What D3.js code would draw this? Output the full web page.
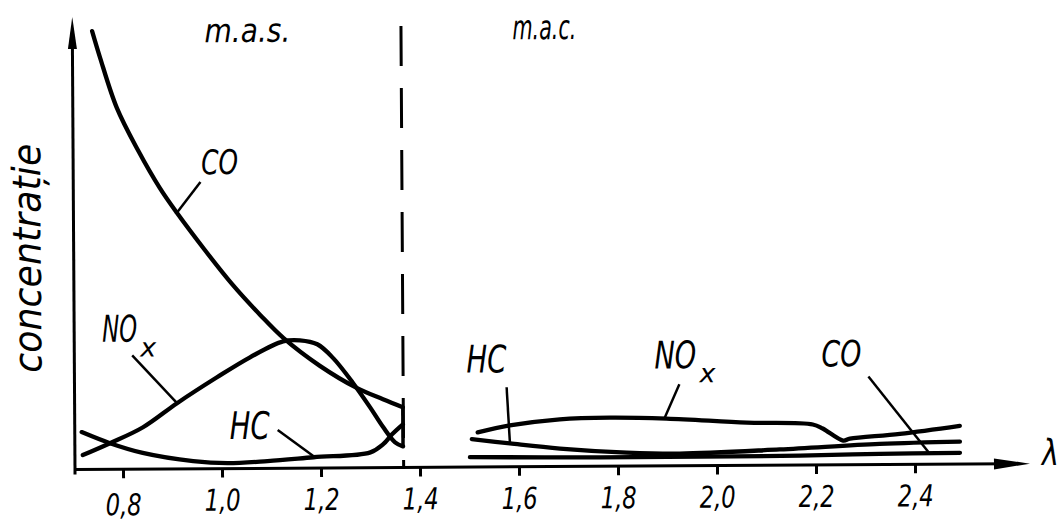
<!DOCTYPE html>
<html><head><meta charset="utf-8">
<script src="https://cdn.jsdelivr.net/npm/d3@7"></script>
<style>
html,body{margin:0;padding:0;background:#fff;}
svg{display:block;}
text{font-family:"DejaVu Sans","Liberation Sans",sans-serif;font-style:italic;fill:#000;}
</style></head><body>
<svg id="chart" width="1062" height="520"></svg>
<script>
// ---------- data ----------
const xTicks = [0.8, 1.0, 1.2, 1.4, 1.6, 1.8, 2.0, 2.2, 2.4];
const xTickLabels = ["0,8", "1,0", "1,2", "1,4", "1,6", "1,8", "2,0", "2,2", "2,4"];
const regimeBoundary = 1.367;
const regimeLabels = ["m.a.s.", "m.a.c."];
const yTitle = "concentrație";
const xTitle = "λ";

// m.a.s. region (lambda, relative concentration)
const coLeft  = [[0.743,9.74],[0.759,9.14],[0.792,8.03],[0.834,7.09],[0.878,6.24],[0.912,5.69],[0.968,4.86],[1.024,4.08],[1.079,3.41],[1.126,2.89],[1.199,2.27],[1.274,1.77],[1.326,1.52],[1.366,1.34]];
const noxLeft = [[0.719,0.32],[0.774,0.58],[0.841,0.93],[0.910,1.46],[0.991,2.03],[1.058,2.47],[1.125,2.82],[1.159,2.84],[1.194,2.75],[1.226,2.44],[1.266,1.88],[1.300,1.34],[1.326,0.90],[1.350,0.56],[1.366,0.47]];
const hcLeft  = [[0.717,0.83],[0.774,0.58],[0.840,0.36],[0.942,0.17],[1.011,0.12],[1.092,0.16],[1.185,0.24],[1.300,0.34],[1.326,0.52],[1.344,0.74],[1.366,0.96]];
const boundaryJoin = [[1.366,1.34],[1.366,0.45]];

// m.a.c. region
const noxRight = [[1.517,0.77],[1.582,0.92],[1.683,1.05],[1.784,1.08],[1.899,1.05],[2.061,0.95],[2.194,0.90],[2.214,0.81],[2.255,0.54],[2.269,0.58],[2.370,0.68],[2.491,0.85]];
const hcRight  = [[1.505,0.62],[1.582,0.52],[1.683,0.40],[1.818,0.30],[1.925,0.27],[2.127,0.35],[2.329,0.46],[2.491,0.50]];
const coRight  = [[1.501,0.22],[1.764,0.20],[1.966,0.20],[2.168,0.21],[2.329,0.24],[2.491,0.25]];

// ---------- layout ----------
const svg = d3.select("#chart");
const g = svg.append("g").attr("transform", "rotate(-0.35,75,469.5)");

const x = d3.scaleLinear().domain([0.8, 2.4]).range([123, 915]);
const y = d3.scaleLinear().domain([0, 10]).range([469.5, 19.5]);

const xAxisStart = x.invert(75), xAxisEnd = x.invert(1030);
const yAxisTop = y.invert(17);

// axes lines
g.append("line").attr("x1", x(xAxisStart)).attr("x2", x(xAxisEnd) - 20)
  .attr("y1", y(0)).attr("y2", y(0)).attr("stroke", "#000").attr("stroke-width", 3);
g.append("path").attr("d", `M${x(xAxisEnd)},${y(0)} L${x(xAxisEnd)-36},${y(0)-5.5} L${x(xAxisEnd)-36},${y(0)+5.5} Z`).attr("fill", "#000");
g.append("line").attr("x1", x(xAxisStart)).attr("x2", x(xAxisStart))
  .attr("y1", y(0) + 5).attr("y2", y(yAxisTop) + 20).attr("stroke", "#000").attr("stroke-width", 3);
g.append("path").attr("d", `M${x(xAxisStart)},${y(yAxisTop)} L${x(xAxisStart)-4.5},${y(yAxisTop)+32} L${x(xAxisStart)+4.5},${y(yAxisTop)+32} Z`).attr("fill", "#000");

// x axis ticks via d3 axis
const xAxis = d3.axisBottom(x).tickValues(xTicks).tickSize(9)
  .tickFormat((d, i) => xTickLabels[i]);
const ax = g.append("g").attr("transform", `translate(0,${y(0)})`).call(xAxis)
  .attr("font-size", null).attr("font-family", null);
ax.select(".domain").remove();
ax.selectAll(".tick line").attr("stroke", "#000").attr("stroke-width", 3);
ax.selectAll(".tick text")
  .attr("y", (d) => d === 0.8 ? 46 : 42).attr("dy", 0)
  .style("font-size", "30px").style("font-style", "italic")
  .attr("textLength", 36).attr("lengthAdjust", "spacingAndGlyphs")
  .attr("fill", "#000");

// regime boundary
g.append("line").attr("x1", x(regimeBoundary)).attr("x2", x(regimeBoundary))
  .attr("y1", 28).attr("y2", y(0)).attr("stroke", "#000").attr("stroke-width", 3)
  .attr("stroke-dasharray", "40,22");

// curves
const line = d3.line().x(d => x(d[0])).y(d => y(d[1])).curve(d3.curveCatmullRom.alpha(0.5));
const straight = d3.line().x(d => x(d[0])).y(d => y(d[1]));
[coLeft, noxLeft, hcLeft, noxRight, hcRight, coRight].forEach(s => {
  g.append("path").attr("d", line(s)).attr("fill", "none").attr("stroke", "#000")
    .attr("stroke-width", 4.3).attr("stroke-linecap", "round").attr("stroke-linejoin", "round");
});
g.append("path").attr("d", straight(boundaryJoin)).attr("fill", "none").attr("stroke", "#000").attr("stroke-width", 3.5);

// leaders (data coords)
const leaders = [
  [[0.960,6.37],[0.912,5.69]],
  [[0.820,2.53],[0.910,1.46]],
  [[1.113,0.85],[1.188,0.24]],
  [[1.576,1.77],[1.582,0.52]],
  [[1.925,1.81],[1.895,1.07]],
  [[2.307,1.96],[2.428,0.26]]
];
leaders.forEach(l => g.append("path").attr("d", straight(l)).attr("stroke", "#000").attr("stroke-width", 2.5).attr("fill", "none"));

// labels
function label(txt, px, py, size, w) {
  g.append("text").attr("x", px).attr("y", py).style("font-size", size + "px")
    .attr("textLength", w).attr("lengthAdjust", "spacingAndGlyphs").text(txt);
}
label(regimeLabels[0], 207, 43, 33, 86);
label(regimeLabels[1], 515, 42, 34, 64);
label("CO", 203, 175, 34, 37);
label("NO", 103, 342, 37, 35);
label("x", 141, 357, 26, 16);
label("HC", 230, 440, 38, 40);
label("HC", 467, 375, 38, 40);
label("NO", 655, 372, 38, 42);
label("x", 700, 386, 26, 16);
label("CO", 822, 371, 36, 40);
label(xTitle, 1042, 471, 36, 17);

g.append("text").attr("transform", "translate(42,258) rotate(-90)")
  .attr("text-anchor", "middle").style("font-size", "39px")
  .attr("textLength", 229).attr("lengthAdjust", "spacingAndGlyphs").text(yTitle);
</script>
</body></html>
